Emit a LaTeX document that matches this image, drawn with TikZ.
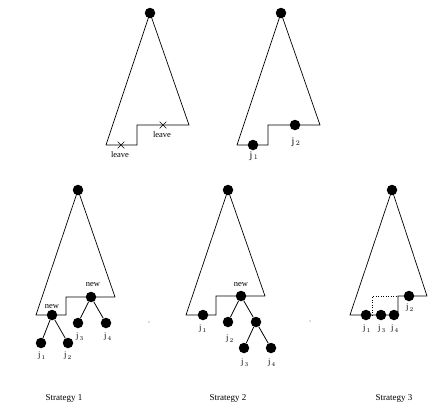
\documentclass[tikz,border=0pt]{standalone}
\usepackage{fontspec}
\setmainfont{Liberation Serif}
\usetikzlibrary{shapes.misc}
\begin{document}
\begin{tikzpicture}[x=1pt,y=-1pt,
  dot/.style={circle,fill=black,minimum size=10.5pt,inner sep=0pt},
  xmark/.style={cross out,draw,minimum size=6pt,inner sep=0pt,line width=0.6pt},
  lbl/.style={font=\fontsize{8.5}{10}\selectfont,inner sep=0pt},
  biglbl/.style={font=\fontsize{10}{12}\selectfont,inner sep=0pt},
  captxt/.style={font=\fontsize{9}{11}\selectfont,inner sep=0pt},
  outline/.style={line width=0.7pt},
  treeedge/.style={line width=0.8pt},
  speck/.style={circle,fill=black!60,minimum size=1.2pt,inner sep=0pt}]
\useasboundingbox (0,0) rectangle (429,418);
\newcommand{\jj}[1]{j$_{\,#1}$}

% ---------- top left ----------
\node[dot] (a0) at (150,13) {};
\coordinate (a1) at (106,145);
\coordinate (a2) at (137,145);
\coordinate (a3) at (137,125);
\coordinate (a4) at (189,125);
\draw[outline] (a0.center) -- (a1) -- (a2) -- (a3) -- (a4) -- cycle;
\node[xmark] (ax1) at (121,145) {};
\node[xmark] (ax2) at (163,125) {};
\node[lbl] (al1) at (120,155) {leave};
\node[lbl] (al2) at (162,135) {leave};

% ---------- top right ----------
\node[dot] (b0) at (281,13) {};
\coordinate (b1) at (237,145);
\coordinate (b2) at (268,145);
\coordinate (b3) at (268,125);
\coordinate (b4) at (320,125);
\draw[outline] (b0.center) -- (b1) -- (b2) -- (b3) -- (b4) -- cycle;
\node[dot] (bj1) at (253,145) {};
\node[dot] (bj2) at (295,125) {};
\node[biglbl] (bl1) at (254,156) {\jj{1}};
\node[biglbl] (bl2) at (296,142) {\jj{2}};

% ---------- strategy 1 ----------
\node[dot] (c0) at (78,190) {};
\coordinate (c1) at (36,315);
\coordinate (c2) at (66,315);
\coordinate (c3) at (66,297);
\coordinate (c4) at (115,297);
\draw[outline] (c0.center) -- (c1) -- (c2) -- (c3) -- (c4) -- cycle;
\node[dot] (cn1) at (52,315) {};
\node[dot] (cn2) at (91,297) {};
\node[dot] (cj1) at (41,343) {};
\node[dot] (cj2) at (68,343) {};
\node[dot] (cj3) at (78,323) {};
\node[dot] (cj4) at (106,323) {};
\draw[treeedge] (cn1) -- (cj1) (cn1) -- (cj2) (cn2) -- (cj3) (cn2) -- (cj4);
\node[lbl] (cln1) at (52,307) {new};
\node[lbl] (cln2) at (93,285) {new};
\node[lbl] (cl1) at (42,356) {\jj{1}};
\node[lbl] (cl2) at (68,356) {\jj{2}};
\node[lbl] (cl3) at (80,337) {\jj{3}};
\node[lbl] (cl4) at (108,337) {\jj{4}};
\node[speck] (cs) at (149,322) {};

% ---------- strategy 2 ----------
\node[dot] (d0) at (228,190) {};
\coordinate (d1) at (186,315);
\coordinate (d2) at (216,315);
\coordinate (d3) at (216,296);
\coordinate (d4) at (265,296);
\draw[outline] (d0.center) -- (d1) -- (d2) -- (d3) -- (d4) -- cycle;
\node[dot] (dj1) at (203,315) {};
\node[dot] (dn) at (241,296) {};
\node[dot] (dj2) at (228,322) {};
\node[dot] (dm) at (256,322) {};
\node[dot] (dj3) at (244,348) {};
\node[dot] (dj4) at (271,348) {};
\draw[treeedge] (dn) -- (dj2) (dn) -- (dm) (dm) -- (dj3) (dm) -- (dj4);
\node[lbl] (dln) at (241,285) {new};
\node[lbl] (dl1) at (203,329) {\jj{1}};
\node[lbl] (dl2) at (230,339) {\jj{2}};
\node[lbl] (dl3) at (245,363) {\jj{3}};
\node[lbl] (dl4) at (272,363) {\jj{4}};
\node[speck] (ds) at (310,321) {};

% ---------- strategy 3 ----------
\node[dot] (e0) at (392,190) {};
\coordinate (e1) at (350,315);
\coordinate (e2) at (398,315);
\coordinate (e3) at (398,296);
\coordinate (e4) at (427,296);
\draw[outline] (e0.center) -- (e1) -- (e2) -- (e3) -- (e4) -- cycle;
\coordinate (f1) at (372,315);
\coordinate (f2) at (372,296);
\draw[line width=0.5pt,dotted] (f1) -- (f2) -- (e3);
\node[dot] (ej1) at (366,315) {};
\node[dot] (ej3) at (381,315) {};
\node[dot] (ej4) at (394,315) {};
\node[dot] (ej2) at (409,296) {};
\node[lbl] (el1) at (367,329) {\jj{1}};
\node[lbl] (el3) at (382,329) {\jj{3}};
\node[lbl] (el4) at (395,329) {\jj{4}};
\node[lbl] (el2) at (410,308) {\jj{2}};

% ---------- captions ----------
\node[captxt] (s1) at (64,398) {Strategy 1};
\node[captxt] (s2) at (228,398) {Strategy 2};
\node[captxt] (s3) at (394,398) {Strategy 3};
\end{tikzpicture}
\end{document}
